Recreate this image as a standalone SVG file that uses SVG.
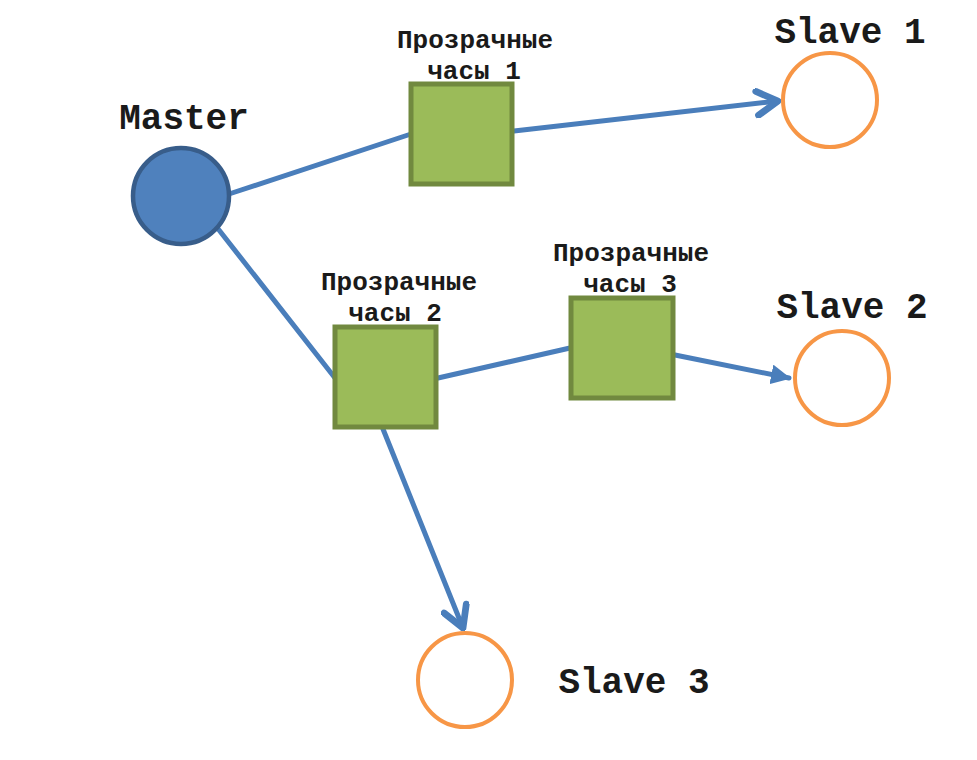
<svg xmlns="http://www.w3.org/2000/svg" width="977" height="760" viewBox="0 0 977 760">
<defs>
<style>
.lbl{font-family:"Liberation Mono","Courier New",monospace;font-weight:bold;fill:#1a1a1a}
.big{font-size:36px}
.small{font-size:26px}
.conn{stroke:#4a7ebb;stroke-width:5;fill:none;stroke-linecap:round}
.tc{fill:#9bbb59;stroke:#71893f;stroke-width:5}
.slave{fill:#ffffff;stroke:#f79646;stroke-width:4}
</style>
<marker id="chev" viewBox="0 0 20 20" refX="18" refY="10" markerWidth="6" markerHeight="6" markerUnits="strokeWidth" orient="auto">
<path d="M4,2 L18,10 L4,18" fill="none" stroke="#4a7ebb" stroke-width="4.5" stroke-linecap="round" stroke-linejoin="round"/>
</marker>
<marker id="tri" viewBox="0 0 20 20" refX="18" refY="10" markerWidth="4" markerHeight="4" markerUnits="strokeWidth" orient="auto">
<path d="M0,0 L20,10 L0,20 Z" fill="#4a7ebb"/>
</marker>
</defs>
<rect width="977" height="760" fill="#ffffff"/>
<g id="connectors">
<line class="conn" x1="229" y1="194" x2="411" y2="134"/>
<line class="conn" x1="514" y1="131" x2="778" y2="101" marker-end="url(#chev)"/>
<line class="conn" x1="219" y1="230" x2="335" y2="378"/>
<line class="conn" x1="438" y1="378" x2="570" y2="348"/>
<line class="conn" x1="675" y1="355" x2="789" y2="378" marker-end="url(#tri)"/>
<line class="conn" x1="383" y1="429" x2="463" y2="628" marker-end="url(#chev)"/>
</g>
<g id="master">
<circle cx="181" cy="196" r="48" fill="#4f81bd" stroke="#385d8a" stroke-width="4.5"/>
<text class="lbl big" x="184" y="129" text-anchor="middle">Master</text>
</g>
<g id="tc1">
<rect class="tc" x="411" y="84" width="101" height="100"/>
<text class="lbl small" x="475" y="48" text-anchor="middle">Прозрачные</text>
<text class="lbl small" x="474" y="79" text-anchor="middle">часы 1</text>
</g>
<g id="tc2">
<rect class="tc" x="335" y="327" width="101" height="100"/>
<text class="lbl small" x="399" y="290" text-anchor="middle">Прозрачные</text>
<text class="lbl small" x="395" y="321" text-anchor="middle">часы 2</text>
</g>
<g id="tc3">
<rect class="tc" x="571" y="298" width="102" height="100"/>
<text class="lbl small" x="631" y="261" text-anchor="middle">Прозрачные</text>
<text class="lbl small" x="630" y="292" text-anchor="middle">часы 3</text>
</g>
<g id="slave1">
<circle class="slave" cx="830" cy="100" r="47"/>
<text class="lbl big" x="850" y="43" text-anchor="middle">Slave 1</text>
</g>
<g id="slave2">
<circle class="slave" cx="842" cy="378" r="47"/>
<text class="lbl big" x="852" y="318" text-anchor="middle">Slave 2</text>
</g>
<g id="slave3">
<circle class="slave" cx="465" cy="680" r="47"/>
<text class="lbl big" x="634" y="693" text-anchor="middle">Slave 3</text>
</g>
</svg>
